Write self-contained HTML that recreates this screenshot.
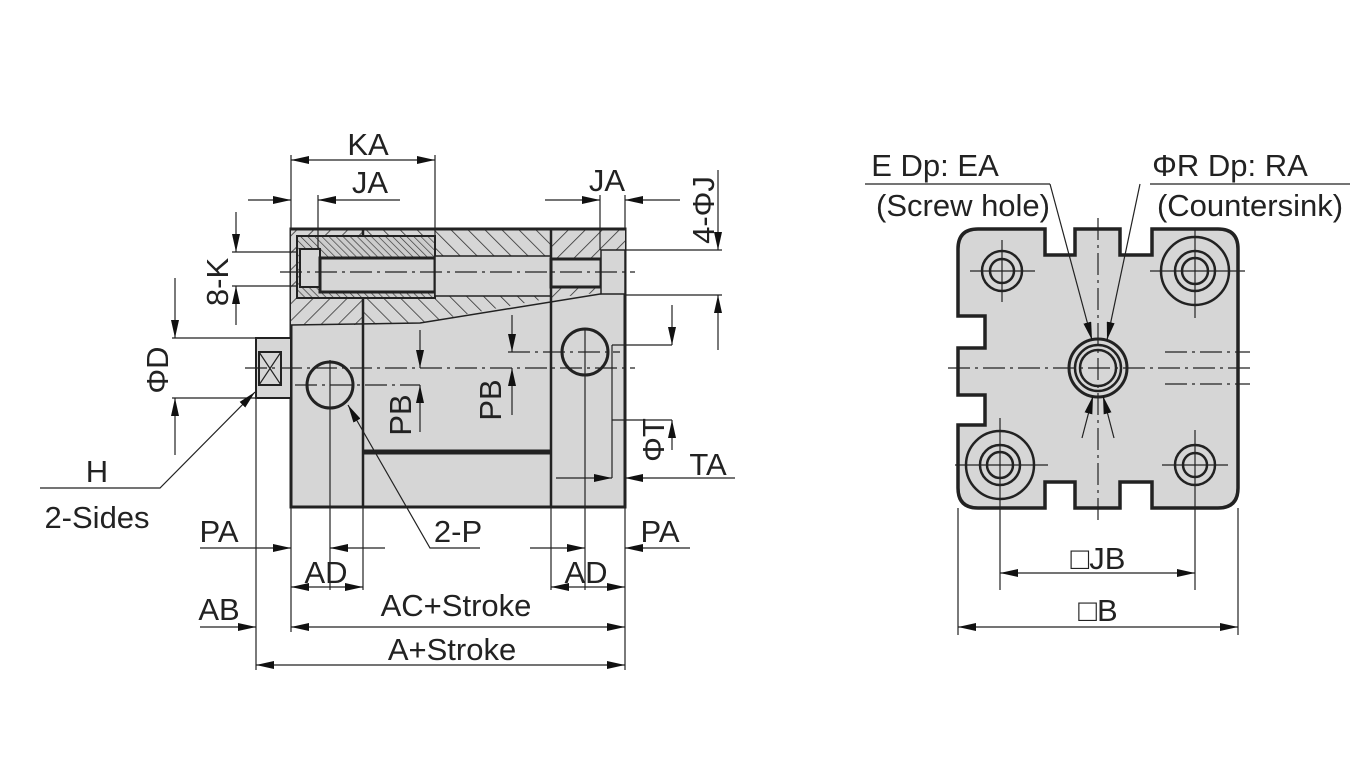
<!DOCTYPE html>
<html><head><meta charset="utf-8"><style>
html,body{margin:0;padding:0;background:#fff;}
svg{display:block;}
text{font-family:"Liberation Sans",Arial,sans-serif;font-size:31px;fill:#222;}
</style></head><body>
<svg width="1360" height="768" viewBox="0 0 1360 768" xmlns="http://www.w3.org/2000/svg">
<defs>
<marker id="a" markerUnits="userSpaceOnUse" markerWidth="18" markerHeight="8" refX="18" refY="4" orient="auto-start-reverse"><path d="M0,0 L18,4 L0,8 z" fill="#111"/></marker>
<pattern id="h" patternUnits="userSpaceOnUse" width="12" height="12" patternTransform="rotate(-45)"><rect width="12" height="12" fill="#d6d6d6"/><line x1="0" y1="0" x2="0" y2="12" stroke="#333" stroke-width="1.6"/></pattern>
<pattern id="h2" patternUnits="userSpaceOnUse" width="12" height="12" patternTransform="rotate(45)"><rect width="12" height="12" fill="#d6d6d6"/><line x1="0" y1="0" x2="0" y2="12" stroke="#333" stroke-width="1.6"/></pattern>
<pattern id="h3" patternUnits="userSpaceOnUse" width="5" height="5" patternTransform="rotate(-45)"><rect width="5" height="5" fill="#ccc"/><line x1="0" y1="0" x2="0" y2="5" stroke="#333" stroke-width="1.3"/></pattern>
</defs>
<g stroke="#222" fill="none">
<rect x="291" y="229" width="334" height="278" fill="#d6d6d6" stroke-width="3"/>
<path d="M291,229 L363,229 L363,325 L291,325 Z" fill="url(#h2)" stroke="none"/>
<path d="M363,229 L551,229 L551,298 L420,323 L363,325 Z" fill="url(#h)" stroke="none"/>
<path d="M551,229 L625,229 L625,290 L551,298 Z" fill="url(#h2)" stroke="none"/>
<path d="M291,325 L420,323 L625,290" stroke-width="1.5"/>
<rect x="297" y="236" width="138" height="62" fill="url(#h3)" stroke-width="2"/>
<rect x="300" y="249" width="20" height="38" fill="#d6d6d6" stroke-width="2"/>
<rect x="320" y="258" width="115" height="34" fill="#d6d6d6" stroke-width="3"/>
<rect x="435" y="256" width="116" height="40" fill="#d6d6d6" stroke-width="1.5"/>
<rect x="551" y="259" width="50" height="28" fill="#d6d6d6" stroke-width="3"/>
<rect x="601" y="250" width="24" height="44" fill="#d6d6d6" stroke-width="1.5"/>
<line x1="363" y1="229" x2="363" y2="236" stroke-width="2.5"/>
<line x1="363" y1="298" x2="363" y2="507" stroke-width="2.5"/>
<line x1="551" y1="229" x2="551" y2="507" stroke-width="2.5"/>
<line x1="363" y1="452" x2="551" y2="452" stroke-width="5"/>
<line x1="291" y1="229" x2="625" y2="229" stroke-width="3"/>
<rect x="256" y="338" width="35" height="60" fill="#d6d6d6" stroke-width="2"/>
<rect x="259" y="352" width="22" height="33" stroke-width="2"/>
<path d="M259,352 L281,385 M281,352 L259,385" stroke-width="1.2"/>
<circle cx="330" cy="385" r="23" stroke-width="3"/>
<circle cx="585" cy="352" r="23" stroke-width="3"/>
<g stroke-width="1.2" stroke-dasharray="22,5,3,5">
<line x1="245" y1="368" x2="635" y2="368"/>
<line x1="280" y1="272" x2="635" y2="272"/>
<line x1="295" y1="385" x2="420" y2="385"/>
<line x1="508" y1="352" x2="620" y2="352"/>
</g>
<g stroke-width="1.2">
<line x1="291" y1="155" x2="291" y2="229"/>
<line x1="435" y1="155" x2="435" y2="236"/>
<line x1="291" y1="160" x2="435" y2="160" marker-start="url(#a)" marker-end="url(#a)"/>
<line x1="318" y1="195" x2="318" y2="250"/>
<line x1="248" y1="200" x2="291" y2="200" marker-end="url(#a)"/>
<line x1="400" y1="200" x2="318" y2="200" marker-end="url(#a)"/>
<line x1="600" y1="195" x2="600" y2="250"/>
<line x1="625" y1="195" x2="625" y2="229"/>
<line x1="545" y1="200" x2="600" y2="200" marker-end="url(#a)"/>
<line x1="680" y1="200" x2="625" y2="200" marker-end="url(#a)"/>
<line x1="625" y1="250" x2="722" y2="250"/>
<line x1="625" y1="295" x2="722" y2="295"/>
<line x1="718" y1="170" x2="718" y2="250" marker-end="url(#a)"/>
<line x1="718" y1="350" x2="718" y2="295" marker-end="url(#a)"/>
<line x1="232" y1="252" x2="297" y2="252"/>
<line x1="232" y1="286" x2="297" y2="286"/>
<line x1="236" y1="212" x2="236" y2="252" marker-end="url(#a)"/>
<line x1="236" y1="325" x2="236" y2="286" marker-end="url(#a)"/>
<line x1="172" y1="338" x2="256" y2="338"/>
<line x1="172" y1="398" x2="256" y2="398"/>
<line x1="175" y1="278" x2="175" y2="338" marker-end="url(#a)"/>
<line x1="175" y1="455" x2="175" y2="398" marker-end="url(#a)"/>
<path d="M40,488 L160,488 L255,392" marker-end="url(#a)"/>
<line x1="420" y1="330" x2="420" y2="368" marker-end="url(#a)"/>
<line x1="420" y1="432" x2="420" y2="385" marker-end="url(#a)"/>
<line x1="512" y1="315" x2="512" y2="352" marker-end="url(#a)"/>
<line x1="512" y1="415" x2="512" y2="368" marker-end="url(#a)"/>
<line x1="612" y1="345" x2="672" y2="345"/>
<line x1="612" y1="420" x2="672" y2="420"/>
<line x1="612" y1="345" x2="612" y2="478"/>
<line x1="672" y1="305" x2="672" y2="345" marker-end="url(#a)"/>
<line x1="672" y1="450" x2="672" y2="420" marker-end="url(#a)"/>
<line x1="556" y1="478" x2="612" y2="478" marker-end="url(#a)"/>
<line x1="735" y1="478" x2="625" y2="478" marker-end="url(#a)"/>
<path d="M480,548 L430,548 L348,405" marker-end="url(#a)"/>
<line x1="256" y1="398" x2="256" y2="670"/>
<line x1="291" y1="507" x2="291" y2="632"/>
<line x1="330" y1="360" x2="330" y2="590"/>
<line x1="363" y1="507" x2="363" y2="590"/>
<line x1="551" y1="507" x2="551" y2="590"/>
<line x1="585" y1="330" x2="585" y2="590"/>
<line x1="625" y1="507" x2="625" y2="670"/>
<line x1="200" y1="548" x2="291" y2="548" marker-end="url(#a)"/>
<line x1="385" y1="548" x2="330" y2="548" marker-end="url(#a)"/>
<line x1="530" y1="548" x2="585" y2="548" marker-end="url(#a)"/>
<line x1="690" y1="548" x2="625" y2="548" marker-end="url(#a)"/>
<line x1="291" y1="587" x2="363" y2="587" marker-start="url(#a)" marker-end="url(#a)"/>
<line x1="551" y1="587" x2="625" y2="587" marker-start="url(#a)" marker-end="url(#a)"/>
<line x1="200" y1="627" x2="256" y2="627" marker-end="url(#a)"/>
<line x1="291" y1="627" x2="625" y2="627" marker-start="url(#a)" marker-end="url(#a)"/>
<line x1="256" y1="665" x2="625" y2="665" marker-start="url(#a)" marker-end="url(#a)"/>
</g>
<path d="M978,229 L1045,229 L1045,255 L1075,255 L1075,229 L1120,229 L1120,255 L1152,255 L1152,229 L1218,229 Q1238,229 1238,249 L1238,488 Q1238,508 1218,508 L1152,508 L1152,482 L1120,482 L1120,508 L1075,508 L1075,482 L1045,482 L1045,508 L978,508 Q958,508 958,488 L958,425 L985,425 L985,395 L958,395 L958,348 L985,348 L985,316 L958,316 L958,249 Q958,229 978,229 Z" fill="#d6d6d6" stroke-width="3.5"/>
<g stroke-width="2.5">
<circle cx="1002" cy="271" r="20"/><circle cx="1002" cy="271" r="12"/>
<circle cx="1195" cy="271" r="34"/><circle cx="1195" cy="271" r="20"/><circle cx="1195" cy="271" r="13"/>
<circle cx="1000" cy="465" r="34"/><circle cx="1000" cy="465" r="20"/><circle cx="1000" cy="465" r="13"/>
<circle cx="1195" cy="465" r="20"/><circle cx="1195" cy="465" r="12"/>
<circle cx="1098" cy="368" r="29" stroke-width="3"/><circle cx="1098" cy="368" r="23"/><circle cx="1098" cy="368" r="18"/>
</g>
<g stroke-width="1.2">
<line x1="970" y1="271" x2="1035" y2="271"/><line x1="1002" y1="240" x2="1002" y2="302"/>
<line x1="1150" y1="271" x2="1245" y2="271"/><line x1="1195" y1="228" x2="1195" y2="318"/>
<line x1="955" y1="465" x2="1048" y2="465"/><line x1="1000" y1="418" x2="1000" y2="590"/>
<line x1="1162" y1="465" x2="1228" y2="465"/><line x1="1195" y1="430" x2="1195" y2="590"/>
<line x1="958" y1="508" x2="958" y2="635"/><line x1="1238" y1="508" x2="1238" y2="635"/>
<g stroke-dasharray="22,5,3,5"><line x1="948" y1="368" x2="1250" y2="368"/><line x1="1098" y1="218" x2="1098" y2="520"/>
<line x1="1165" y1="352" x2="1250" y2="352"/><line x1="1165" y1="384" x2="1250" y2="384"/></g>
<line x1="865" y1="184" x2="1050" y2="184"/><path d="M1050,184 L1092,340" marker-end="url(#a)"/>
<line x1="1150" y1="184" x2="1350" y2="184"/><path d="M1140,184 L1107,340" marker-end="url(#a)"/>
<line x1="1082" y1="438" x2="1093" y2="396" marker-end="url(#a)"/>
<line x1="1114" y1="438" x2="1103" y2="396" marker-end="url(#a)"/>
<line x1="1000" y1="573" x2="1195" y2="573" marker-start="url(#a)" marker-end="url(#a)"/>
<line x1="958" y1="627" x2="1238" y2="627" marker-start="url(#a)" marker-end="url(#a)"/>
</g>
</g>
<text x="368" y="155" text-anchor="middle">KA</text>
<text x="370" y="193" text-anchor="middle">JA</text>
<text x="607" y="191" text-anchor="middle">JA</text>
<text transform="translate(714,210) rotate(-90)" text-anchor="middle">4-ΦJ</text>
<text transform="translate(228,282) rotate(-90)" text-anchor="middle">8-K</text>
<text transform="translate(168,370) rotate(-90)" text-anchor="middle">ΦD</text>
<text transform="translate(411,415) rotate(-90)" text-anchor="middle">PB</text>
<text transform="translate(501,400) rotate(-90)" text-anchor="middle">PB</text>
<text transform="translate(664,440) rotate(-90)" text-anchor="middle">ΦT</text>
<text x="708" y="475" text-anchor="middle">TA</text>
<text x="97" y="482" text-anchor="middle">H</text>
<text x="97" y="528" text-anchor="middle">2-Sides</text>
<text x="219" y="542" text-anchor="middle">PA</text>
<text x="660" y="542" text-anchor="middle">PA</text>
<text x="458" y="542" text-anchor="middle">2-P</text>
<text x="326" y="583" text-anchor="middle">AD</text>
<text x="586" y="583" text-anchor="middle">AD</text>
<text x="219" y="620" text-anchor="middle">AB</text>
<text x="456" y="616" text-anchor="middle">AC+Stroke</text>
<text x="452" y="660" text-anchor="middle">A+Stroke</text>
<text x="935" y="176" text-anchor="middle">E Dp: EA</text>
<text x="963" y="216" text-anchor="middle">(Screw hole)</text>
<text x="1230" y="176" text-anchor="middle">ΦR Dp: RA</text>
<text x="1250" y="216" text-anchor="middle">(Countersink)</text>
<text x="1098" y="569" text-anchor="middle">□JB</text>
<text x="1098" y="621" text-anchor="middle">□B</text>
</svg>
</body></html>
